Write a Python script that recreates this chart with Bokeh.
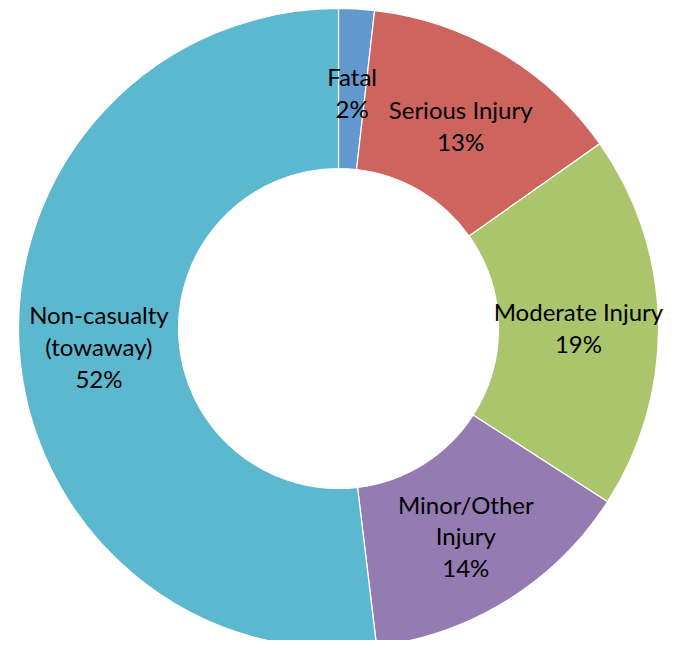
import math
from bokeh.plotting import figure
from bokeh.models import ColumnDataSource
from bokeh.core.properties import value
from bokeh.embed import file_html
from bokeh.resources import INLINE

categories = ["Fatal", "Serious Injury", "Moderate Injury", "Minor/Other Injury", "Non-casualty (towaway)"]
label_texts = ["Fatal", "Serious Injury", "Moderate Injury", "Minor/Other\nInjury", "Non-casualty\n(towaway)"]
shares = [1.8, 13.4, 18.9, 14.0, 51.9]
colors = ["#6198CD", "#CD655E", "#AAC56B", "#947BB2", "#5BB8CF"]

W, H = 668, 640
cx, cy = 338, 312
r_out, r_in, r_lab = 320, 160, 240

total = sum(shares)
starts, ends, lx, ly, labels = [], [], [], [], []
cum = 0.0
for s, t in zip(shares, label_texts):
    a0 = cum / total
    cum += s
    a1 = cum / total
    starts.append(math.pi / 2 - 2 * math.pi * a0)
    ends.append(math.pi / 2 - 2 * math.pi * a1)
    mid = 2 * math.pi * (a0 + a1) / 2
    lx.append(cx + r_lab * math.sin(mid))
    ly.append(cy + r_lab * math.cos(mid))
    labels.append(f"{t}\n{round(100 * s / total)}%")

src = ColumnDataSource(dict(start=starts, end=ends, color=colors, cat=categories))
lab = ColumnDataSource(dict(x=lx, y=ly, text=labels))

p = figure(width=W, height=H, x_range=(0, W), y_range=(0, H),
           output_backend="svg", toolbar_location=None, min_border=0)
p.axis.visible = False
p.grid.visible = False
p.outline_line_color = None

p.annular_wedge(x=cx, y=cy, inner_radius=r_in, outer_radius=r_out,
                start_angle="start", end_angle="end", direction="clock",
                fill_color="color", line_color="white", line_width=1.2, source=src)
p.text(x="x", y="y", text="text", source=lab, text_align="center",
       text_baseline="middle", text_font=value("Lato"), text_font_size="24px",
       text_line_height=1.1, text_color="black", y_offset=4)

open("out.html", "w").write(file_html(p, INLINE))
